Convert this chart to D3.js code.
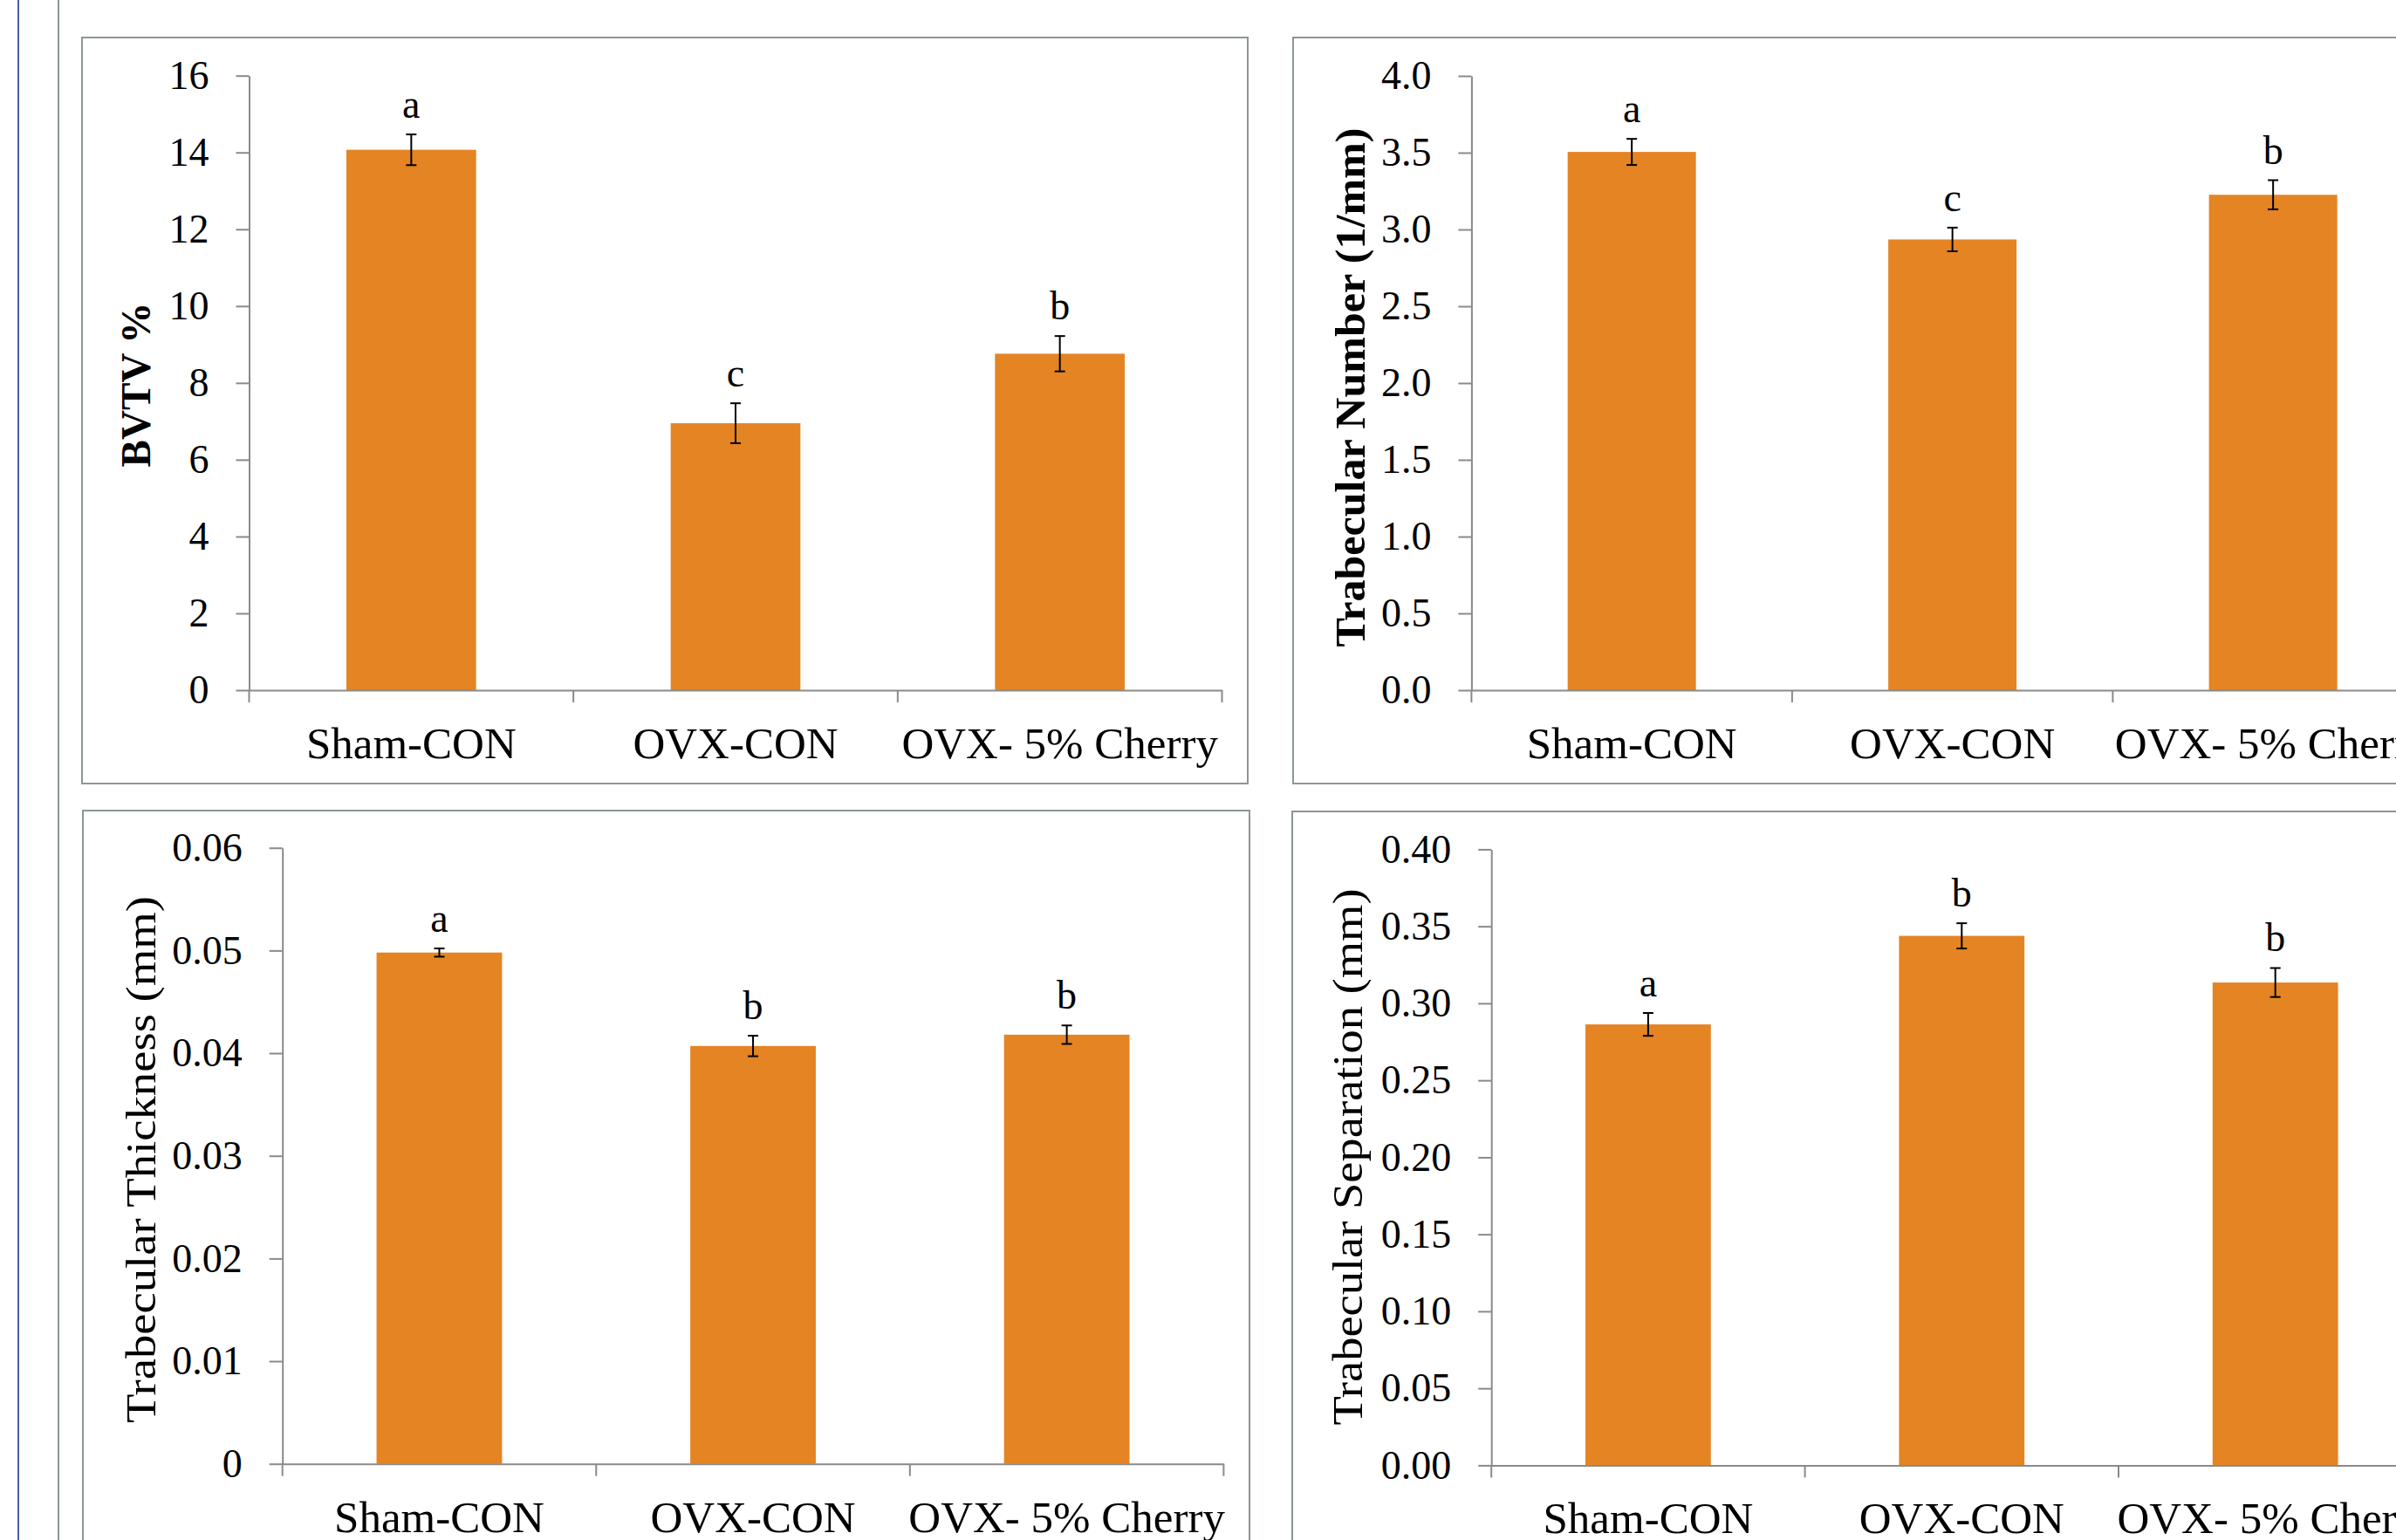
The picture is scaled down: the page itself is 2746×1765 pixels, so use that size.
<!DOCTYPE html>
<html>
<head>
<meta charset="utf-8">
<script src="https://cdn.jsdelivr.net/npm/d3@7"></script>
<style>
  html, body { margin: 0; padding: 0; background: #ffffff; }
  svg { display: block; }
</style>
</head>
<body>
<script>
// ---------------- DATA ----------------
const categories = ["Sham-CON", "OVX-CON", "OVX- 5% Cherry"];

const bvtvMean    = [14.07, 6.95, 8.76];
const bvtvSE      = [0.40, 0.52, 0.46];
const bvtvLetters = ["a", "c", "b"];
const bvtvTicks   = [0, 2, 4, 6, 8, 10, 12, 14, 16];
const bvtvTickLabels = ["0", "2", "4", "6", "8", "10", "12", "14", "16"];

const tbnMean    = [3.505, 2.935, 3.226];
const tbnSE      = [0.085, 0.077, 0.095];
const tbnLetters = ["a", "c", "b"];
const tbnTicks   = [0, 0.5, 1.0, 1.5, 2.0, 2.5, 3.0, 3.5, 4.0];
const tbnTickLabels = ["0.0", "0.5", "1.0", "1.5", "2.0", "2.5", "3.0", "3.5", "4.0"];

const tbthMean    = [0.0498, 0.0407, 0.0418];
const tbthSE      = [0.0004, 0.0010, 0.0009];
const tbthLetters = ["a", "b", "b"];
const tbthTicks   = [0, 0.01, 0.02, 0.03, 0.04, 0.05, 0.06];
const tbthTickLabels = ["0", "0.01", "0.02", "0.03", "0.04", "0.05", "0.06"];

const tbspMean    = [0.2863, 0.3438, 0.3135];
const tbspSE      = [0.0074, 0.0082, 0.0094];
const tbspLetters = ["a", "b", "b"];
const tbspTicks   = [0, 0.05, 0.10, 0.15, 0.20, 0.25, 0.30, 0.35, 0.40];
const tbspTickLabels = ["0.00", "0.05", "0.10", "0.15", "0.20", "0.25", "0.30", "0.35", "0.40"];

const titles = ["BVTV %", "Trabecular Number (1/mm)", "Trabecular Thickness (mm)", "Trabecular Separation (mm)"];

// ---------------- LAYOUT / STYLE ----------------
const W = 2746, H = 1765;
const BAR = "#E48423";
const AXIS = "#8a8a8a";
const BORDER = "#8c9699";
const FONT = "'Liberation Serif', 'Times New Roman', serif";

const panels = [
  { mean: bvtvMean, se: bvtvSE, letters: bvtvLetters, ticks: bvtvTicks, tickLabels: bvtvTickLabels, title: titles[0],
    box: [94, 43, 1336, 855], plot: { left: 285.5, right: 1400.5, top: 86.7, bottom: 791 },
    titlePos: [155, 441], titleLen: 189, bold: true },
  { mean: tbnMean, se: tbnSE, letters: tbnLetters, ticks: tbnTicks, tickLabels: tbnTickLabels, title: titles[1],
    box: [1482, 43, 1400, 855], plot: { left: 1686.4, right: 2788.9, top: 87, bottom: 791 },
    titlePos: [1547, 444], titleLen: 595, bold: true },
  { mean: tbthMean, se: tbthSE, letters: tbthLetters, ticks: tbthTicks, tickLabels: tbthTickLabels, title: titles[2],
    box: [95, 929, 1337, 900], plot: { left: 323.7, right: 1402.4, top: 971.7, bottom: 1677.7 },
    titlePos: [161, 1329], titleLen: 604, bold: false },
  { mean: tbspMean, se: tbspSE, letters: tbspLetters, ticks: tbspTicks, tickLabels: tbspTickLabels, title: titles[3],
    box: [1481, 930, 1400, 900], plot: { left: 1709.2, right: 2787.4, top: 973.4, bottom: 1679.4 },
    titlePos: [1544, 1326], titleLen: 615, bold: false }
];

const svg = d3.select("body").append("svg")
  .attr("width", W).attr("height", H)
  .attr("viewBox", `0 0 ${W} ${H}`);

svg.append("rect").attr("width", W).attr("height", H).attr("fill", "#ffffff");

// page decoration lines on the left
svg.append("line").attr("x1", 21).attr("x2", 21).attr("y1", 0).attr("y2", H)
  .attr("stroke", "#4a5fa6").attr("stroke-width", 2);
svg.append("line").attr("x1", 67).attr("x2", 67).attr("y1", 0).attr("y2", H)
  .attr("stroke", BORDER).attr("stroke-width", 2);

panels.forEach(p => {
  const g = svg.append("g");

  // panel border
  g.append("rect")
    .attr("x", p.box[0]).attr("y", p.box[1])
    .attr("width", p.box[2]).attr("height", p.box[3])
    .attr("fill", "none").attr("stroke", BORDER).attr("stroke-width", 2);

  const x = d3.scaleBand()
    .domain(categories)
    .range([p.plot.left, p.plot.right])
    .paddingInner(0.6).paddingOuter(0.3);

  const y = d3.scaleLinear()
    .domain([p.ticks[0], p.ticks[p.ticks.length - 1]])
    .range([p.plot.bottom, p.plot.top]);

  // bars
  g.selectAll("rect.bar").data(categories).enter().append("rect")
    .attr("class", "bar")
    .attr("x", d => x(d))
    .attr("width", x.bandwidth())
    .attr("y", (d, i) => y(p.mean[i]))
    .attr("height", (d, i) => y(0) - y(p.mean[i]))
    .attr("fill", BAR);

  // y axis
  const yAxis = d3.axisLeft(y)
    .tickValues(p.ticks)
    .tickFormat((d, i) => p.tickLabels[i])
    .tickSize(15).tickSizeOuter(0).tickPadding(31);
  const ya = g.append("g").attr("transform", `translate(${p.plot.left},0)`).call(yAxis);
  ya.select(".domain").attr("stroke", AXIS).attr("stroke-width", 2);
  ya.selectAll(".tick line").attr("stroke", AXIS).attr("stroke-width", 2);
  ya.selectAll(".tick text").attr("font-family", FONT).attr("font-size", 46).attr("fill", "#000");

  // x axis: labels (no ticks at centers) + boundary ticks
  const xAxis = d3.axisBottom(x).tickSize(0).tickSizeOuter(0).tickPadding(0);
  const xa = g.append("g").attr("transform", `translate(0,${p.plot.bottom})`).call(xAxis);
  xa.select(".domain").attr("stroke", AXIS).attr("stroke-width", 2);
  xa.selectAll(".tick text")
    .attr("font-family", FONT).attr("font-size", 51).attr("fill", "#000")
    .attr("dy", null).attr("y", 78);
  const boundaries = d3.range(categories.length + 1).map(i => p.plot.left + i * x.step());
  xa.selectAll("line.bnd").data(boundaries).enter().append("line")
    .attr("class", "bnd")
    .attr("x1", d => d).attr("x2", d => d)
    .attr("y1", 0).attr("y2", 14)
    .attr("stroke", AXIS).attr("stroke-width", 2);

  // error bars
  const cap = 6;
  const eb = g.selectAll("g.err").data(categories).enter().append("g").attr("class", "err");
  eb.append("line")
    .attr("x1", d => x(d) + x.bandwidth() / 2).attr("x2", d => x(d) + x.bandwidth() / 2)
    .attr("y1", (d, i) => y(p.mean[i] + p.se[i])).attr("y2", (d, i) => y(p.mean[i] - p.se[i]))
    .attr("stroke", "#000").attr("stroke-width", 2);
  eb.append("line")
    .attr("x1", d => x(d) + x.bandwidth() / 2 - cap).attr("x2", d => x(d) + x.bandwidth() / 2 + cap)
    .attr("y1", (d, i) => y(p.mean[i] + p.se[i])).attr("y2", (d, i) => y(p.mean[i] + p.se[i]))
    .attr("stroke", "#000").attr("stroke-width", 2);
  eb.append("line")
    .attr("x1", d => x(d) + x.bandwidth() / 2 - cap).attr("x2", d => x(d) + x.bandwidth() / 2 + cap)
    .attr("y1", (d, i) => y(p.mean[i] - p.se[i])).attr("y2", (d, i) => y(p.mean[i] - p.se[i]))
    .attr("stroke", "#000").attr("stroke-width", 2);

  // significance letters
  g.selectAll("text.letter").data(categories).enter().append("text")
    .attr("class", "letter")
    .attr("x", d => x(d) + x.bandwidth() / 2)
    .attr("y", (d, i) => y(p.mean[i] + p.se[i]) - 19)
    .attr("text-anchor", "middle")
    .attr("font-family", FONT).attr("font-size", 46).attr("fill", "#000")
    .text((d, i) => p.letters[i]);

  // y title
  g.append("text")
    .attr("transform", `translate(${p.titlePos[0]},${p.titlePos[1]}) rotate(-90)`)
    .attr("text-anchor", "middle")
    .attr("dy", "0.35em")
    .attr("font-family", FONT).attr("font-size", 48)
    .attr("font-weight", p.bold ? "bold" : "normal")
    .attr("textLength", p.titleLen).attr("lengthAdjust", "spacingAndGlyphs")
    .attr("fill", "#000")
    .text(p.title);
});
</script>
</body>
</html>
